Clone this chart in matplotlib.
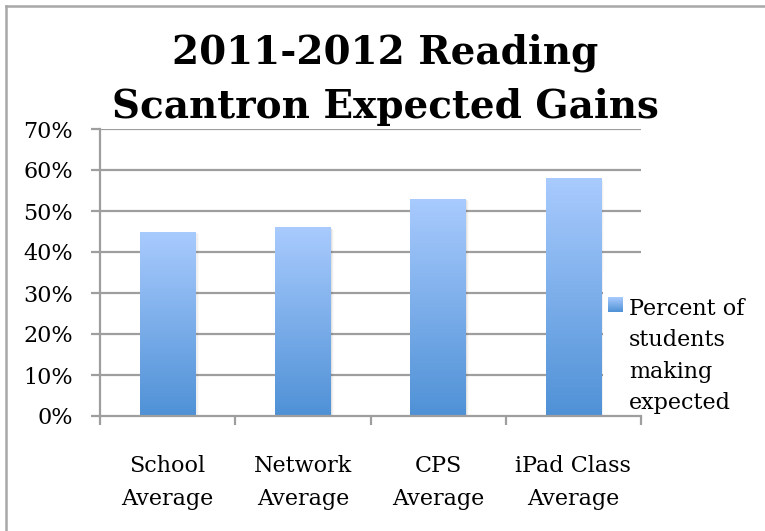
import matplotlib
matplotlib.use("Agg")
import matplotlib.pyplot as plt
import numpy as np
from matplotlib.patches import Rectangle
from matplotlib.colors import LinearSegmentedColormap
from matplotlib.lines import Line2D
from matplotlib.transforms import blended_transform_factory

categories = ["School\nAverage", "Network\nAverage", "CPS\nAverage", "iPad Class\nAverage"]
values = [0.45, 0.46, 0.53, 0.58]
yticks = [0, 0.1, 0.2, 0.3, 0.4, 0.5, 0.6, 0.7]
ytick_labels = ["0%", "10%", "20%", "30%", "40%", "50%", "60%", "70%"]
title_lines = ["2011-2012 Reading", "Scantron Expected Gains"]
legend_lines = ["Percent of", "students", "making", "expected"]

FONT = "DejaVu Serif"
FS = 16
W, H = 765, 531
fig = plt.figure(figsize=(W / 100, H / 100), dpi=100)

def fx(px):
    return px / W

def fy(py):
    return 1 - py / H

# outer frame (top and left lines only)
fig.add_artist(Line2D([fx(6), 1.0], [fy(6), fy(6)], color="#a8a8a8", lw=1.8))
fig.add_artist(Line2D([fx(6), fx(6)], [fy(6), 0.0], color="#a8a8a8", lw=1.8))

left, right, top, bottom = 100, 641, 129, 416
ax = fig.add_axes([fx(left), fy(bottom), fx(right - left), (bottom - top) / H])

n = len(categories)
x = np.arange(n)

grid_color = "#9e9e9e"
for yv in yticks[1:]:
    ax.axhline(yv, color=grid_color, lw=1.6, zorder=1)

cmap = LinearSegmentedColormap.from_list("g", ["#4f91d6", "#a9cbfe"])
grad = np.linspace(0, 1, 256).reshape(-1, 1)
bw = 0.41
for xi, v in zip(x, values):
    # soft shadow
    for k, a in enumerate([0.06, 0.04, 0.02]):
        sh = Rectangle((xi - bw / 2, 0), bw + 0.008 * (k + 1), v - 0.002 * (k + 1),
                       facecolor="black", alpha=a, edgecolor="none", zorder=2)
        ax.add_patch(sh)
    rect = Rectangle((xi - bw / 2, 0), bw, v, facecolor="none", edgecolor="none", zorder=3)
    ax.add_patch(rect)
    im = ax.imshow(grad, extent=(xi - bw / 2, xi + bw / 2, 0, v), origin="lower",
                   cmap=cmap, aspect="auto", zorder=3, interpolation="bilinear")
    im.set_clip_path(rect)
ax.set_xlim(-0.5, n - 0.5)
ax.set_ylim(0, 0.7)

for s in ["top", "right"]:
    ax.spines[s].set_visible(False)
for s in ["left", "bottom"]:
    ax.spines[s].set_color(grid_color)
    ax.spines[s].set_linewidth(1.6)
    ax.spines[s].set_zorder(4)

ax.set_yticks(yticks)
ax.set_yticklabels(ytick_labels, fontfamily=FONT, fontsize=FS)
ax.tick_params(axis="y", length=6.5, width=1.6, color=grid_color, pad=13)
ax.set_xticks(np.arange(n + 1) - 0.5, minor=False)
ax.set_xticklabels([""] * (n + 1))
ax.tick_params(axis="x", length=6.5, width=1.6, color=grid_color)
tr = blended_transform_factory(ax.transData, fig.transFigure)
for xi, lab in zip(x, categories):
    for j, line in enumerate(lab.split("\n")):
        ax.text(xi, fy(472 + j * 33), line, ha="center", va="baseline", fontfamily=FONT,
                fontsize=FS, transform=tr, clip_on=False)

# legend area
lx0, ly0, lx1, ly1 = 603, 272, 765, 414
lax = fig.add_axes([fx(lx0), fy(ly1), fx(lx1 - lx0), (ly1 - ly0) / H])
lax.axis("off")
lax.add_patch(Rectangle((lx0, ly0), lx1 - lx0, ly1 - ly0, facecolor="white",
                        edgecolor="none", zorder=0))
lim = lax.imshow(grad[::-1], extent=(608, 623, 312, 297), origin="upper", cmap=cmap,
                 aspect="auto", zorder=2)
lax.set_xlim(lx0, lx1)
lax.set_ylim(ly1, ly0)
for i, t in enumerate(legend_lines):
    lax.text(629, 315 + i * 31.5, t, ha="left", va="baseline", fontfamily=FONT,
             fontsize=FS, clip_on=True)

for i, t in enumerate(title_lines):
    fig.text(fx(385), fy(63 + i * 55), t, ha="center", va="baseline", fontfamily=FONT,
             fontweight="bold", fontsize=28)

fig.savefig("out.png", dpi=100)
